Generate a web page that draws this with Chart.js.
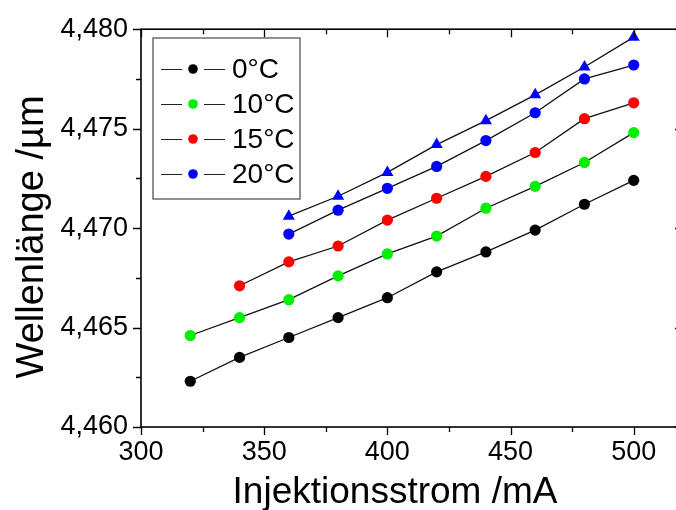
<!DOCTYPE html>
<html>
<head>
<meta charset="utf-8">
<script src="https://cdn.jsdelivr.net/npm/chart.js@4/dist/chart.umd.min.js"></script>
<style>
  html, body { margin: 0; padding: 0; background: #fff; overflow: hidden; }
  #wrap { width: 690px; height: 510px; }
</style>
</head>
<body>
<div id="wrap"><canvas id="chart1"></canvas></div>
<script>
// injection current in mA
var current = [320, 340, 360, 380, 400, 420, 440, 460, 480, 500];

// wavelength in um
var temp0 = [4.4623, 4.4635, 4.4645, 4.4655, 4.4665, 4.4678, 4.4688, 4.4699, 4.4712, 4.4724];
var temp10 = [4.4646, 4.4655, 4.4664, 4.4676, 4.4687, 4.4696, 4.4710, 4.4721, 4.4733, 4.4748];
var temp15 = [null, 4.4671, 4.4683, 4.4691, 4.4704, 4.4715, 4.4726, 4.4738, 4.4755, 4.4763];
var temp20 = [null, null, 4.4697, 4.4709, 4.4720, 4.4731, 4.4744, 4.4758, 4.4775, 4.4782];
var temp20b = [null, null, 4.4706, 4.4716, 4.4728, 4.4742, 4.4754, 4.4767, 4.4781, 4.4796];

var legendLabels = ['0°C', '10°C', '15°C', '20°C'];

var xTicks = [300, 350, 400, 450, 500];
var xMinor = [325, 375, 425, 475];
var yTicks = [4.460, 4.465, 4.470, 4.475, 4.480];
var yMinor = [4.4625, 4.4675, 4.4725, 4.4775];

var xTitle = 'Injektionsstrom /mA';
var yTitle = 'Wellenlänge /µm';

var FONT = "'Liberation Sans', Arial, sans-serif";

function toPoints(ys) {
    var pts = [];
    for (var i = 0; i < current.length; i++) {
        if (ys[i] !== null) pts.push({ x: current[i], y: ys[i] });
    }
    return pts;
}

function makeSet(label, ys, color, style) {
    return {
        label: label,
        data: toPoints(ys),
        showLine: true,
        borderColor: '#111',
        borderWidth: 1.3,
        pointStyle: style,
        pointRadius: style === 'triangle' ? 7 : 5.6,
        pointBackgroundColor: color,
        pointBorderColor: color,
        pointBorderWidth: 0,
        pointHoverRadius: 5.6
    };
}

// frame with ticks like Origin: outward on left/bottom, inward on top/right
var framePlugin = {
    id: 'frame',
    afterDraw: function (chart) {
        var ctx = chart.ctx;
        var a = chart.chartArea;
        var xs = chart.scales.x, ys = chart.scales.y;
        ctx.save();
        ctx.strokeStyle = '#000';
        ctx.lineWidth = 1.6;
        ctx.strokeRect(a.left, a.top, a.right - a.left, a.bottom - a.top);
        ctx.lineWidth = 1.3;
        ctx.beginPath();
        function xt(list, len) {
            list.forEach(function (v) {
                var p = Math.round(xs.getPixelForValue(v)) + 0.5;
                ctx.moveTo(p, a.bottom); ctx.lineTo(p, a.bottom + len);
                ctx.moveTo(p, a.top); ctx.lineTo(p, a.top + len);
            });
        }
        function yt(list, len) {
            list.forEach(function (v) {
                var p = Math.round(ys.getPixelForValue(v)) + 0.5;
                ctx.moveTo(a.left, p); ctx.lineTo(a.left - len, p);
                ctx.moveTo(a.right, p); ctx.lineTo(a.right - len, p);
            });
        }
        xt(xTicks, 8); xt(xMinor, 5);
        yt(yTicks, 8); yt(yMinor, 5);
        ctx.stroke();

        // axis titles, placed as in the original (not exactly centred)
        ctx.fillStyle = '#000';
        ctx.textAlign = 'center';
        ctx.textBaseline = 'alphabetic';
        ctx.font = '37px ' + FONT;
        ctx.fillText(xTitle, 395, 503);
        ctx.translate(43, 237);
        ctx.rotate(-Math.PI / 2);
        ctx.font = '38px ' + FONT;
        ctx.fillText(yTitle, 0, 0);
        ctx.restore();
    }
};

// legend box in the upper left corner
var legendPlugin = {
    id: 'boxLegend',
    afterDraw: function (chart) {
        var ctx = chart.ctx;
        var left = 153, top = 38, w = 147, h = 161;
        ctx.save();
        ctx.strokeStyle = '#555';
        ctx.lineWidth = 1.3;
        ctx.strokeRect(left, top, w, h);
        ctx.font = '28px ' + FONT;
        ctx.textBaseline = 'middle';
        ctx.fillStyle = '#000';
        for (var i = 0; i < legendLabels.length; i++) {
            var ds = chart.data.datasets[i];
            var y = 69 + i * 35;
            ctx.strokeStyle = '#222';
            ctx.lineWidth = 1;
            ctx.beginPath();
            ctx.moveTo(161, y + 0.5); ctx.lineTo(182, y + 0.5);
            ctx.moveTo(204, y + 0.5); ctx.lineTo(225, y + 0.5);
            ctx.stroke();
            ctx.fillStyle = ds.pointBackgroundColor;
            ctx.beginPath();
            ctx.arc(193, y, 4.8, 0, Math.PI * 2);
            ctx.fill();
            ctx.fillStyle = '#000';
            ctx.fillText(legendLabels[i], 232, y + 1);
        }
        ctx.restore();
    }
};

var ctx = document.getElementById('chart1').getContext('2d');
var myChart = new Chart(ctx, {
    type: 'scatter',
    data: {
        datasets: [
            makeSet('0°C', temp0, '#000000', 'circle'),
            makeSet('10°C', temp10, '#00ee00', 'circle'),
            makeSet('15°C', temp15, '#ff0000', 'circle'),
            makeSet('20°C', temp20, '#0000ff', 'circle'),
            makeSet('20°C b', temp20b, '#0000ff', 'triangle')
        ]
    },
    options: {
        responsive: true,
        maintainAspectRatio: false,
        animation: false,
        layout: { padding: { top: 27, right: 2, left: 0, bottom: 0 } },
        plugins: {
            legend: { display: false },
            tooltip: { enabled: false }
        },
        scales: {
            x: {
                type: 'linear',
                min: 300,
                max: 520,
                grid: { display: false, drawTicks: false },
                border: { display: false },
                afterBuildTicks: function (scale) {
                    scale.ticks = xTicks.map(function (v) { return { value: v }; });
                },
                afterFit: function (scale) { scale.height = 83; },
                ticks: {
                    color: '#000',
                    font: { family: FONT, size: 27 },
                    padding: 9,
                    maxRotation: 0
                },
                title: { display: false }
            },
            y: {
                type: 'linear',
                min: 4.460,
                max: 4.480,
                grid: { display: false, drawTicks: false },
                border: { display: false },
                afterBuildTicks: function (scale) {
                    scale.ticks = yTicks.map(function (v) { return { value: v }; });
                },
                afterFit: function (scale) { scale.width = 141; },
                ticks: {
                    color: '#000',
                    font: { family: FONT, size: 27 },
                    padding: 13,
                    callback: function (value) {
                        return value.toFixed(3).replace('.', ',');
                    }
                },
                title: { display: false }
            }
        }
    },
    plugins: [framePlugin, legendPlugin]
});
</script>
</body>
</html>
